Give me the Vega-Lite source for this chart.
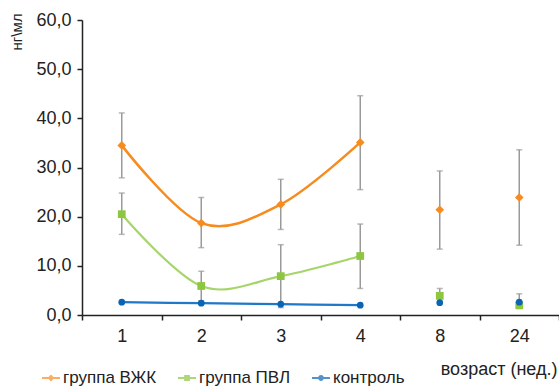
{
  "$schema": "https://vega.github.io/schema/vega-lite/v6.json",
  "width": 477,
  "height": 295,
  "autosize": {"type": "none"},
  "padding": {"left": 82, "top": 20, "right": 0, "bottom": 72},
  "background": "white",
  "config": {
    "view": {"stroke": null},
    "font": "Liberation Sans",
    "axis": {"labelFont": "Liberation Sans", "titleFont": "Liberation Sans", "labelColor": "#222", "titleColor": "#222", "domainColor": "#222", "tickColor": "#222", "titleFontWeight": "normal"},
    "legend": {"labelFont": "Liberation Sans", "labelColor": "#222"}
  },
  "data": {
    "values": [
      {"week": "1", "group": "группа ВЖК", "value": 34.5, "lo": 27.9, "hi": 41.1},
      {"week": "2", "group": "группа ВЖК", "value": 18.7, "lo": 13.7, "hi": 23.9},
      {"week": "3", "group": "группа ВЖК", "value": 22.5, "lo": 17.4, "hi": 27.6},
      {"week": "4", "group": "группа ВЖК", "value": 35.1, "lo": 25.5, "hi": 44.6},
      {"week": "8", "group": "группа ВЖК", "value": 21.4, "lo": 13.4, "hi": 29.3},
      {"week": "24", "group": "группа ВЖК", "value": 23.9, "lo": 14.2, "hi": 33.6},
      {"week": "1", "group": "группа ПВЛ", "value": 20.5, "lo": 16.4, "hi": 24.8},
      {"week": "2", "group": "группа ПВЛ", "value": 5.9, "lo": 2.9, "hi": 8.9},
      {"week": "3", "group": "группа ПВЛ", "value": 7.9, "lo": 1.5, "hi": 14.3},
      {"week": "4", "group": "группа ПВЛ", "value": 12.0, "lo": 5.4, "hi": 18.5},
      {"week": "8", "group": "группа ПВЛ", "value": 3.9, "lo": 2.4, "hi": 5.4},
      {"week": "24", "group": "группа ПВЛ", "value": 2.0, "lo": 1.3, "hi": 4.3},
      {"week": "1", "group": "контроль", "value": 2.6, "lo": null, "hi": null},
      {"week": "2", "group": "контроль", "value": 2.4, "lo": null, "hi": null},
      {"week": "3", "group": "контроль", "value": 2.2, "lo": null, "hi": null},
      {"week": "4", "group": "контроль", "value": 2.0, "lo": null, "hi": null},
      {"week": "8", "group": "контроль", "value": 2.5, "lo": null, "hi": null},
      {"week": "24", "group": "контроль", "value": 2.6, "lo": null, "hi": null}
    ]
  },
  "encoding": {
    "x": {
      "field": "week", "type": "ordinal",
      "sort": ["1", "2", "3", "4", "8", "24"],
      "scale": {"domain": ["1", "2", "3", "4", "8", "24"], "paddingInner": 0, "paddingOuter": 0},
      "axis": {
        "title": "возраст (нед.)", "labelAngle": 0, "tickBand": "extent",
        "labelFontSize": 18, "titleFontSize": 18, "labelPadding": 7, "tickSize": 5,
        "domainWidth": 1.5, "tickWidth": 1.5,
        "titleAnchor": "end", "titleAlign": "right", "titleX": 475, "titleY": 54, "titleBaseline": "middle"
      }
    }
  },
  "layer": [
    {
      "mark": {"type": "rule", "color": "#9a9a9a", "strokeWidth": 1.5},
      "encoding": {
        "y": {
          "field": "lo", "type": "quantitative",
          "scale": {"domain": [0, 60]},
          "axis": {
            "title": "нг\\мл", "values": [0, 10, 20, 30, 40, 50, 60], "labelOverlap": false,
            "labelExpr": "replace(format(datum.value, '.1f'), '.', ',')",
            "labelFontSize": 18, "titleFontSize": 15, "grid": false, "tickSize": 5, "labelPadding": 6,
            "domainWidth": 1.5, "tickWidth": 1.5,
            "titleAngle": -90, "titleX": -66, "titleY": -7, "titleAlign": "right", "titleBaseline": "middle"
          }
        },
        "y2": {"field": "hi"}
      }
    },
    {
      "mark": {"type": "tick", "color": "#9a9a9a", "size": 6, "thickness": 1.5},
      "encoding": {"y": {"field": "lo", "type": "quantitative"}}
    },
    {
      "mark": {"type": "tick", "color": "#9a9a9a", "size": 6, "thickness": 1.5},
      "encoding": {"y": {"field": "hi", "type": "quantitative"}}
    },
    {
      "transform": [{"filter": {"field": "week", "oneOf": ["1", "2", "3", "4"]}}, {"filter": {"field": "group", "equal": "группа ВЖК"}}],
      "mark": {"type": "line", "interpolate": "cardinal", "strokeWidth": 2.5, "color": "#F68B1F"},
      "encoding": {"y": {"field": "value", "type": "quantitative"}}
    },
    {
      "transform": [{"filter": {"field": "week", "oneOf": ["1", "2", "3", "4"]}}, {"filter": {"field": "group", "equal": "группа ПВЛ"}}],
      "mark": {"type": "line", "interpolate": "cardinal", "strokeWidth": 2.2, "color": "#A6D56A"},
      "encoding": {"y": {"field": "value", "type": "quantitative"}}
    },
    {
      "transform": [{"filter": {"field": "week", "oneOf": ["1", "2", "3", "4"]}}, {"filter": {"field": "group", "equal": "контроль"}}],
      "mark": {"type": "line", "interpolate": "cardinal", "strokeWidth": 2.2, "color": "#1F78C8"},
      "encoding": {"y": {"field": "value", "type": "quantitative"}}
    },
    {
      "transform": [{"filter": {"field": "group", "equal": "группа ВЖК"}}],
      "mark": {"type": "point", "shape": "diamond", "filled": true, "size": 75, "color": "#F68B1F", "opacity": 1},
      "encoding": {"y": {"field": "value", "type": "quantitative"}}
    },
    {
      "transform": [{"filter": {"field": "group", "equal": "группа ПВЛ"}}],
      "mark": {"type": "point", "shape": "square", "filled": true, "size": 60, "color": "#8DC63F", "opacity": 1},
      "encoding": {"y": {"field": "value", "type": "quantitative"}}
    },
    {
      "transform": [{"filter": {"field": "group", "equal": "контроль"}}],
      "mark": {"type": "point", "shape": "circle", "filled": true, "size": 45, "color": "#0A64B4", "opacity": 1},
      "encoding": {"y": {"field": "value", "type": "quantitative"}}
    },
    {
      "transform": [{"filter": "false"}],
      "mark": {"type": "point", "filled": true},
      "encoding": {
        "y": {"field": "value", "type": "quantitative"},
        "color": {
          "field": "group", "type": "nominal",
          "scale": {"domain": ["группа ВЖК", "группа ПВЛ", "контроль"], "range": ["#F68B1F", "#8DC63F", "#0A64B4"]},
          "legend": {
            "title": null, "orient": "none", "direction": "horizontal",
            "legendX": -40, "legendY": 349,
            "symbolSize": 324, "symbolStrokeWidth": 0,
            "labelFontSize": 17, "labelOffset": 3, "columnPadding": 21
          }
        },
        "shape": {
          "field": "group", "type": "nominal",
          "scale": {"domain": ["группа ВЖК", "группа ПВЛ", "контроль"], "range": [
            "M-1,-0.11H1V0.11H-1Z M0,-0.38L0.38,0L0,0.38L-0.38,0Z",
            "M-1,-0.11H1V0.11H-1Z M-0.32,-0.32H0.32V0.32H-0.32Z",
            "M-1,-0.11H1V0.11H-1Z M0.32,0A0.32,0.32 0 1,1 -0.32,0A0.32,0.32 0 1,1 0.32,0Z"
          ]},
          "legend": {
            "title": null, "orient": "none", "direction": "horizontal",
            "legendX": -40, "legendY": 349,
            "symbolSize": 324, "symbolStrokeWidth": 0,
            "labelFontSize": 17, "labelOffset": 3, "columnPadding": 21
          }
        }
      }
    }
  ]
}
